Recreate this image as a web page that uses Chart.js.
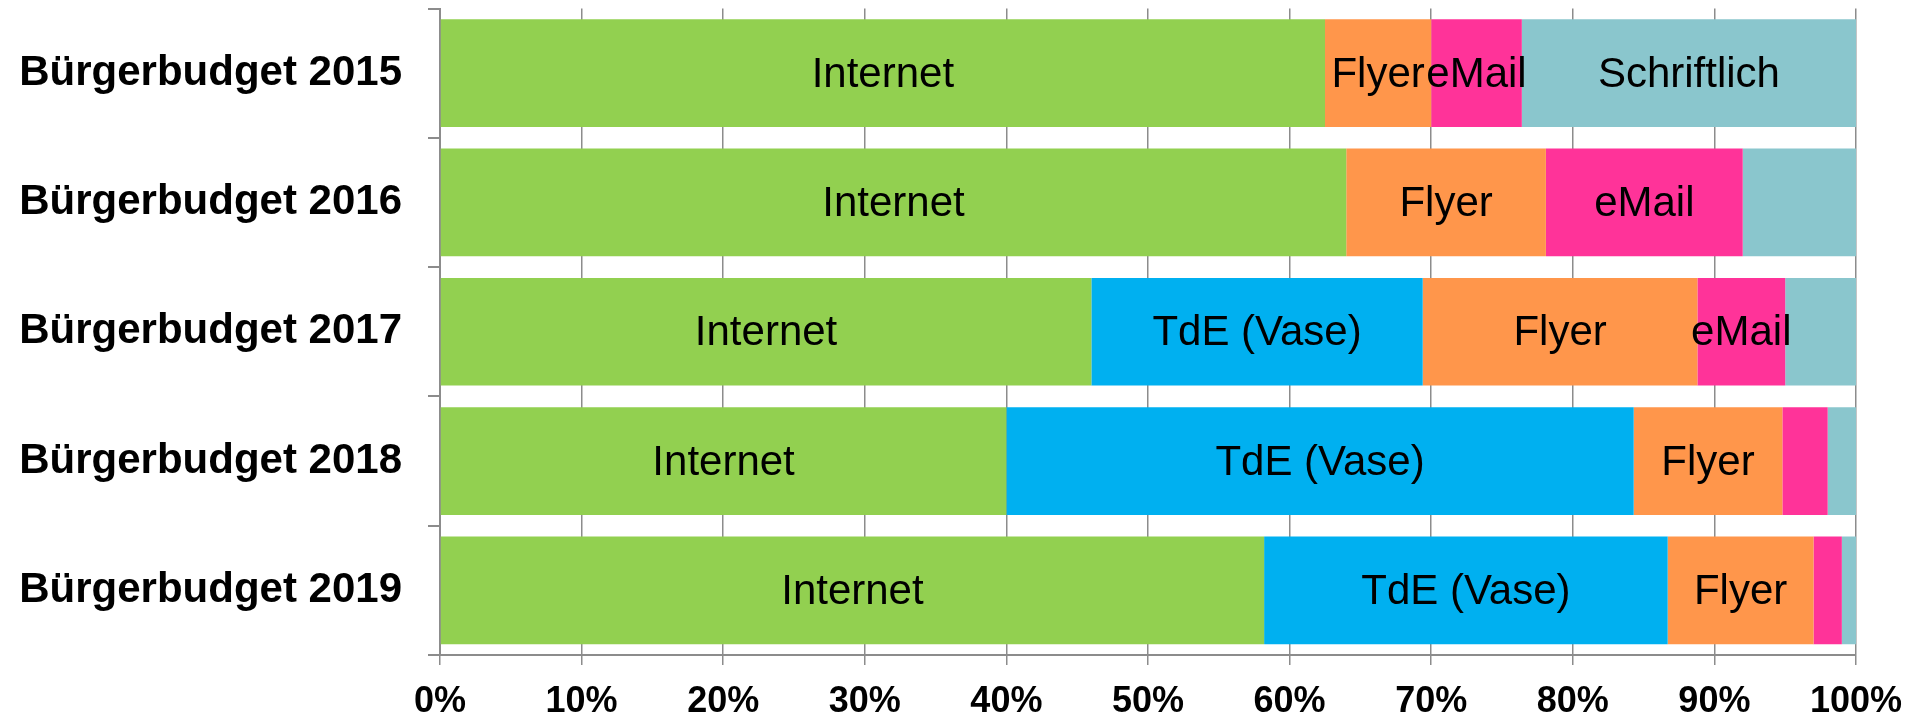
<!DOCTYPE html>
<html>
<head>
<meta charset="utf-8">
<script src="https://cdn.jsdelivr.net/npm/chart.js@4"></script>
<style>
  html, body { margin: 0; padding: 0; background: #ffffff; }
  #wrap { width: 1913px; height: 717px; }
</style>
</head>
<body>
<div id="wrap"><canvas id="c" width="1913" height="717"></canvas></div>
<script>
const categories = ['Bürgerbudget 2015', 'Bürgerbudget 2016', 'Bürgerbudget 2017', 'Bürgerbudget 2018', 'Bürgerbudget 2019'];
const seriesNames = ['Internet', 'TdE (Vase)', 'Flyer', 'eMail', 'Schriftlich'];
const internet    = [62.5, 64.0, 46.0, 40.0, 58.2];
const tde         = [0, 0, 23.4, 44.3, 28.5];
const flyer       = [7.5, 14.1, 19.4, 10.5, 10.3];
const email       = [6.4, 13.9, 6.2, 3.2, 2.0];
const schriftlich = [23.6, 8.0, 5.0, 2.0, 1.0];
const internetLabels    = ['Internet', 'Internet', 'Internet', 'Internet', 'Internet'];
const tdeLabels         = ['', '', 'TdE (Vase)', 'TdE (Vase)', 'TdE (Vase)'];
const flyerLabels       = ['Flyer', 'Flyer', 'Flyer', 'Flyer', 'Flyer'];
const emailLabels       = ['eMail', 'eMail', 'eMail', '', ''];
const schriftlichLabels = ['Schriftlich', '', '', '', ''];
const xTicks = [0, 10, 20, 30, 40, 50, 60, 70, 80, 90, 100];

const colors = ['#92D050', '#00B0F0', '#FF964B', '#FF3399', '#8AC6CD'];
const values = [internet, tde, flyer, email, schriftlich];
const labelSets = [internetLabels, tdeLabels, flyerLabels, emailLabels, schriftlichLabels];
const FONT = '"Liberation Sans", Arial, sans-serif';

const datasets = seriesNames.map((n, i) => ({
  label: n,
  data: values[i],
  backgroundColor: colors[i],
  borderWidth: 0,
  barPercentage: 0.833,
  categoryPercentage: 1.0,
  segLabels: labelSets[i]
}));

const segLabelPlugin = {
  id: 'segLabels',
  afterDatasetsDraw(chart) {
    const ctx = chart.ctx;
    ctx.save();
    ctx.font = '42px ' + FONT;
    ctx.fillStyle = '#000000';
    ctx.textAlign = 'center';
    ctx.textBaseline = 'middle';
    chart.data.datasets.forEach((ds, i) => {
      const meta = chart.getDatasetMeta(i);
      meta.data.forEach((el, j) => {
        const t = ds.segLabels[j];
        if (!t) return;
        const cx = (el.x + el.base) / 2;
        ctx.fillText(t, cx, el.y + 2);
      });
    });
    ctx.restore();
  }
};

new Chart(document.getElementById('c'), {
  type: 'bar',
  data: { labels: categories, datasets },
  options: {
    indexAxis: 'y',
    responsive: false,
    animation: false,
    layout: { padding: { top: 8.5, right: 57, bottom: 0, left: 0 } },
    plugins: { legend: { display: false }, tooltip: { enabled: false } },
    scales: {
      x: {
        stacked: true,
        min: 0, max: 100,
        afterBuildTicks(scale) { scale.ticks = xTicks.map(v => ({ value: v })); },
        afterFit(scale) { scale.height = 62; scale.paddingLeft = 0; scale.paddingRight = 0; },
        grid: { color: '#8C8C8C', lineWidth: 1.5, tickLength: 10, drawTicks: true },
        border: { color: '#8C8C8C', width: 2 },
        ticks: {
          padding: 15,
          color: '#000000',
          maxRotation: 0,
          autoSkip: false,
          font: { family: FONT, size: 36, weight: 'bold' },
          callback: v => v + '%'
        }
      },
      y: {
        stacked: true,
        afterFit(scale) { scale.width = 440; scale.paddingTop = 0; scale.paddingBottom = 0; },
        grid: { offset: true, drawOnChartArea: false, color: '#8C8C8C', lineWidth: 2, tickLength: 12 },
        border: { color: '#8C8C8C', width: 2 },
        ticks: {
          padding: 26,
          color: '#000000',
          font: { family: FONT, size: 42, weight: 'bold' }
        }
      }
    }
  },
  plugins: [segLabelPlugin]
});
</script>
</body>
</html>
